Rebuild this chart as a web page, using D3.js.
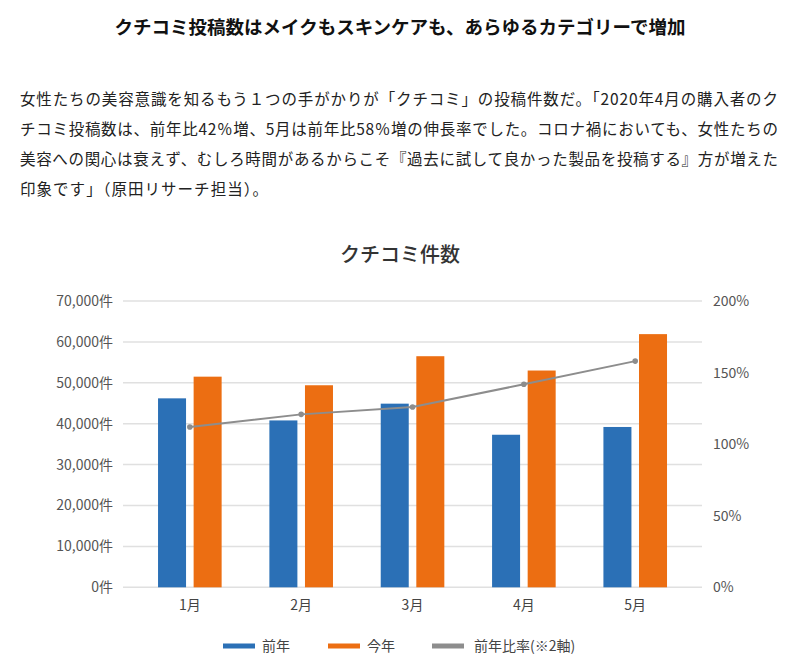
<!DOCTYPE html>
<html><head><meta charset="utf-8">
<script src="https://cdn.jsdelivr.net/npm/d3@7"></script>
<style>
body{margin:0;background:#fff;}
svg{display:block;font-family:"Noto Sans CJK JP","Noto Sans",sans-serif;}
</style></head>
<body>
<svg id="c" width="800" height="671"></svg>
<script>
const months = ["1月","2月","3月","4月","5月"];
const prevYear = [46200, 40800, 44900, 37300, 39200];
const thisYear = [51500, 49400, 56500, 53000, 61900];
const ratio = [112, 120.8, 126, 141.8, 158];
const leftTicks = [0,10000,20000,30000,40000,50000,60000,70000];
const rightTicks = [0,50,100,150,200];
const seriesNames = ["前年","今年","前年比率(※2軸)"];
const colors = ["#2b70b6","#ec6e12","#8d8d8d"];
const headline = "クチコミ投稿数はメイクもスキンケアも、あらゆるカテゴリーで増加";
const paragraph = [
 "女性たちの美容意識を知るもう１つの手がかりが「クチコミ」の投稿件数だ。「2020年4月の購入者のク",
 "チコミ投稿数は、前年比42％増、5月は前年比58％増の伸長率でした。コロナ禍においても、女性たちの",
 "美容への関心は衰えず、むしろ時間があるからこそ『過去に試して良かった製品を投稿する』方が増えた",
 "印象です」（原田リサーチ担当）。"
];
const chartTitle = "クチコミ件数";

const svg = d3.select("#c");

svg.append("text").attr("x",400).attr("y",34).attr("text-anchor","middle")
  .attr("font-size",18.5).attr("font-weight","bold").attr("fill","#111").text(headline);

const lineWidths = [758,758,758,248];
paragraph.forEach((line,i)=>{
  svg.append("text").attr("x",20).attr("y",105+i*30)
    .attr("font-size",15.5).attr("fill","#222").text(line)
    .attr("textLength",lineWidths[i]).attr("lengthAdjust","spacing");
});

svg.append("text").attr("x",400).attr("y",262).attr("text-anchor","middle")
  .attr("font-size",20).attr("font-weight","500").attr("fill","#333").text(chartTitle);

const gridX0 = 123, gridX1 = 702;
const y = d3.scaleLinear().domain([0,70000]).range([587.3,301]);
const y2 = d3.scaleLinear().domain([0,200]).range([587.3,301]);
const x = d3.scaleBand().domain(months).range([gridX0,gridX1]).paddingOuter(0.1).paddingInner(0);
const xi = d3.scaleBand().domain([0,1]).range([23.9,87.5]).paddingInner(0.213);

// grid lines
svg.append("g").selectAll("line").data(leftTicks).join("line")
  .attr("x1",gridX0).attr("x2",gridX1)
  .attr("y1",d=>y(d)).attr("y2",d=>y(d))
  .attr("stroke","#e0e0e0").attr("stroke-width",1.5);

// left axis
const fmt = d3.format(",");
const la = svg.append("g").attr("transform",`translate(${gridX0-10},0)`)
  .call(d3.axisLeft(y).tickValues(leftTicks).tickSize(0).tickPadding(0).tickFormat(d=>fmt(d)+"件"));
la.select(".domain").remove();
la.selectAll("text").attr("font-size",14).attr("fill","#555")
  .attr("font-family",'"Noto Sans CJK JP",sans-serif');

// right axis
const ra = svg.append("g").attr("transform",`translate(${gridX1+11},0)`)
  .call(d3.axisRight(y2).tickValues(rightTicks).tickSize(0).tickPadding(0).tickFormat(d=>d+"%"));
ra.select(".domain").remove();
ra.selectAll("text").attr("font-size",14).attr("fill","#555")
  .attr("font-family",'"Noto Sans CJK JP",sans-serif');

// bars
const barData = months.map((m,i)=>({m, vals:[prevYear[i], thisYear[i]]}));
const groups = svg.append("g").selectAll("g").data(barData).join("g")
  .attr("transform",d=>`translate(${x(d.m)},0)`);
groups.selectAll("rect").data(d=>d.vals.map((v,k)=>({v,k}))).join("rect")
  .attr("x",d=>xi(d.k)).attr("width",xi.bandwidth())
  .attr("y",d=>y(d.v)).attr("height",d=>y(0)-y(d.v))
  .attr("fill",d=>colors[d.k]);

// bottom axis labels
const ba = svg.append("g").attr("transform",`translate(0,${y(0)+9})`)
  .call(d3.axisBottom(x).tickSize(0).tickPadding(0));
ba.select(".domain").remove();
ba.selectAll("text").attr("font-size",14).attr("fill","#444").attr("dy","0.95em")
  .attr("font-family",'"Noto Sans CJK JP",sans-serif');

// line
const cx = m => x(m)+(xi.range()[0]+xi.range()[1])/2;
const lineGen = d3.line().x((d,i)=>cx(months[i])).y(d=>y2(d));
svg.append("path").datum(ratio).attr("d",lineGen)
  .attr("fill","none").attr("stroke",colors[2]).attr("stroke-width",2);
svg.append("g").selectAll("circle").data(ratio).join("circle")
  .attr("cx",(d,i)=>cx(months[i])).attr("cy",d=>y2(d)).attr("r",2.8)
  .attr("fill",colors[2]);

// legend
const legX = [223,328,432];
const lg = svg.append("g").selectAll("g").data(seriesNames).join("g")
  .attr("transform",(d,i)=>`translate(${legX[i]},646)`);
lg.append("rect").attr("x",0).attr("y",-2.5).attr("width",32).attr("height",5)
  .attr("fill",(d,i)=>colors[i]);
lg.append("text").attr("x",(d,i)=>i===2?42:39).attr("y",0).attr("dy","0.35em")
  .attr("font-size",14).attr("fill","#444").text(d=>d);
</script>
</body></html>
